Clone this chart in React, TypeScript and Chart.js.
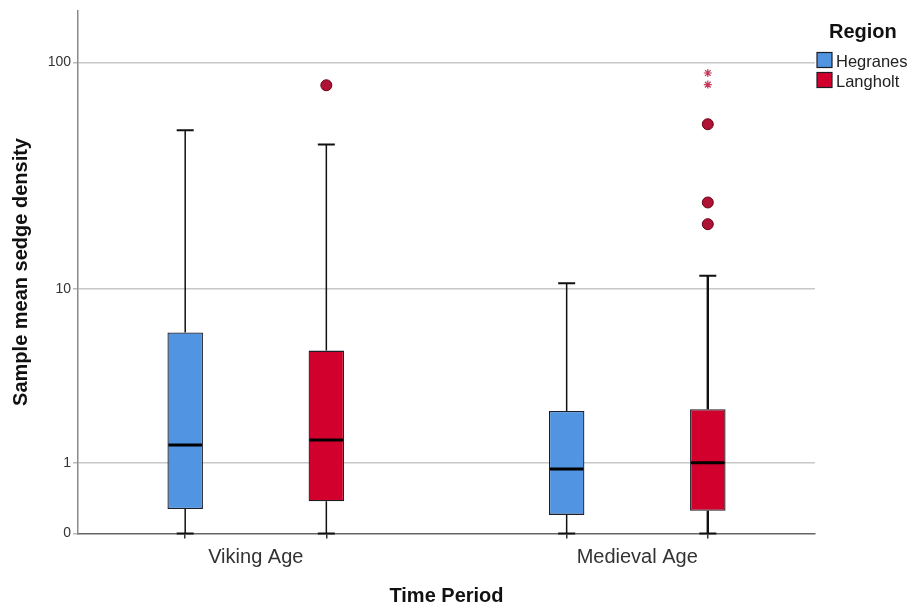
import React, { useEffect, useRef } from 'react';
import { Chart, registerables } from 'chart.js';

Chart.register(...registerables);

// ---------------- data ----------------
const periods = ['Viking Age', 'Medieval Age'];
const regions = ['Hegranes', 'Langholt'];

const hegranesMin = [0, 0];
const hegranesQ1 = [0.27, 0.2];
const hegranesMedian = [1.38, 0.88];
const hegranesQ3 = [6.17, 2.32];
const hegranesMax = [50.9, 10.6];
const hegranesOutliers: number[][] = [[], []];
const hegranesExtremes: number[][] = [[], []];

const langholtMin = [0, 0];
const langholtQ1 = [0.37, 0.25];
const langholtMedian = [1.5, 1.0];
const langholtQ3 = [5.0, 2.38];
const langholtMax = [44.2, 11.5];
const langholtOutliers: number[][] = [[79.7], [54.1, 24.6, 19.7]];
const langholtExtremes: number[][] = [[], [90, 80.2]];

const yTickValues = [0, 1, 10, 100];
const yAxisTop = 167;

// ---------------- layout / style ----------------
const periodCenters = [1, 2];
const regionOffsets = [-0.185, 0.185];
const xMin = 0.534;
const xMax = 2.466;

const FONT = "'Liberation Sans', Arial, Helvetica, sans-serif";
const regionColors = ['#5094E2', '#D2002D'];
const boxBorder = '#1e1e28';
const whiskerWidths = [
  [1.5, 1.5],
  [1.5, 2.4],
];
const capHalf = 8.5;

const tf = (v: number) => Math.log10(v + 1);

const regionStats = [
  {
    min: hegranesMin, q1: hegranesQ1, med: hegranesMedian, q3: hegranesQ3, max: hegranesMax,
    outliers: hegranesOutliers, extremes: hegranesExtremes,
  },
  {
    min: langholtMin, q1: langholtQ1, med: langholtMedian, q3: langholtQ3, max: langholtMax,
    outliers: langholtOutliers, extremes: langholtExtremes,
  },
];

const xTickPositions: number[] = [];
const xTickLabels: string[] = [];
periods.forEach((name, p) => {
  xTickPositions.push(periodCenters[p] + regionOffsets[0]);
  xTickLabels.push('');
  xTickPositions.push(periodCenters[p]);
  xTickLabels.push(name);
  xTickPositions.push(periodCenters[p] + regionOffsets[1]);
  xTickLabels.push('');
});

const boxPlugin = {
  id: 'boxWhiskers',
  afterDatasetsDraw(chart: any) {
    const { ctx } = chart;
    const x = chart.scales.x;
    const y = chart.scales.y;
    ctx.save();
    regionStats.forEach((st, r) => {
      const meta = chart.getDatasetMeta(r);
      periods.forEach((_, p) => {
        const bar = meta.data[p] as any;
        const cx = x.getPixelForValue(periodCenters[p] + regionOffsets[r]);
        const half = bar.width / 2;
        const yMinP = y.getPixelForValue(tf(st.min[p]));
        const yQ1 = y.getPixelForValue(tf(st.q1[p]));
        const yMed = y.getPixelForValue(tf(st.med[p]));
        const yQ3 = y.getPixelForValue(tf(st.q3[p]));
        const yMaxP = y.getPixelForValue(tf(st.max[p]));
        ctx.strokeStyle = '#111';
        ctx.lineCap = 'butt';
        ctx.lineWidth = whiskerWidths[r][p];
        ctx.beginPath();
        ctx.moveTo(cx, yQ3);
        ctx.lineTo(cx, yMaxP);
        ctx.moveTo(cx, yQ1);
        ctx.lineTo(cx, yMinP);
        ctx.stroke();
        ctx.lineWidth = 2;
        ctx.beginPath();
        ctx.moveTo(cx - capHalf, yMaxP);
        ctx.lineTo(cx + capHalf, yMaxP);
        ctx.moveTo(cx - capHalf, yMinP);
        ctx.lineTo(cx + capHalf, yMinP);
        ctx.stroke();
        ctx.strokeStyle = '#000';
        ctx.lineWidth = 3;
        ctx.beginPath();
        ctx.moveTo(cx - half + 1, yMed);
        ctx.lineTo(cx + half - 1, yMed);
        ctx.stroke();
      });
    });
    ctx.restore();
  },
};

const legendPlugin = {
  id: 'regionLegend',
  afterDraw(chart: any) {
    const { ctx } = chart;
    ctx.save();
    ctx.fillStyle = '#111';
    ctx.font = `bold 20px ${FONT}`;
    ctx.textBaseline = 'alphabetic';
    ctx.textAlign = 'left';
    ctx.fillText('Region', 829, 37.5);
    regions.forEach((name, r) => {
      const top = 52.5 + r * 20;
      ctx.fillStyle = regionColors[r];
      ctx.fillRect(817, top, 15, 15);
      ctx.strokeStyle = boxBorder;
      ctx.lineWidth = 1.2;
      ctx.strokeRect(817, top, 15, 15);
      ctx.fillStyle = '#222';
      ctx.font = `16.5px ${FONT}`;
      ctx.fillText(name, 836, top + 14.5);
    });
    ctx.restore();
  },
};

export default function App() {
  const ref = useRef<HTMLCanvasElement | null>(null);

  useEffect(() => {
    if (!ref.current) return;
    const datasets: any[] = [];
    regionStats.forEach((st, r) => {
      datasets.push({
        type: 'bar',
        label: regions[r],
        data: periods.map((_, p) => ({
          x: periodCenters[p] + regionOffsets[r],
          y: [tf(st.q1[p]), tf(st.q3[p])],
        })),
        backgroundColor: regionColors[r],
        borderColor: boxBorder,
        borderWidth: 1.3,
        borderSkipped: false,
        grouped: false,
        maxBarThickness: 35.5,
        order: 2,
      });
    });
    regionStats.forEach((st, r) => {
      const pts: any[] = [];
      st.outliers.forEach((vals, p) =>
        vals.forEach((v) => pts.push({ x: periodCenters[p] + regionOffsets[r], y: tf(v) }))
      );
      datasets.push({
        type: 'scatter',
        label: regions[r] + ' outliers',
        data: pts,
        pointStyle: 'circle',
        pointRadius: 5.5,
        backgroundColor: '#AE1234',
        borderColor: '#6a0018',
        borderWidth: 1,
        order: 1,
      });
      const ext: any[] = [];
      st.extremes.forEach((vals, p) =>
        vals.forEach((v) => ext.push({ x: periodCenters[p] + regionOffsets[r], y: tf(v) }))
      );
      datasets.push({
        type: 'scatter',
        label: regions[r] + ' extremes',
        data: ext,
        pointStyle: 'star',
        pointRadius: 4,
        backgroundColor: '#C2395A',
        borderColor: '#C2395A',
        borderWidth: 1.2,
        order: 1,
      });
    });

    const chart = new Chart(ref.current, {
      type: 'bar',
      data: { datasets },
      plugins: [boxPlugin, legendPlugin],
      options: {
        responsive: false,
        animation: false,
        devicePixelRatio: 1,
        layout: { padding: { top: 10, right: 96, left: 0, bottom: 0 } },
        plugins: {
          legend: { display: false },
          tooltip: { enabled: false },
        },
        scales: {
          x: {
            type: 'linear',
            min: xMin,
            max: xMax,
            bounds: 'data',
            offset: false,
            afterBuildTicks: (s: any) => {
              s.ticks = xTickPositions.map((v) => ({ value: v }));
            },
            afterFit: (s: any) => {
              s.height = 76.5;
            },
            ticks: {
              autoSkip: false,
              maxRotation: 0,
              minRotation: 0,
              padding: 7,
              color: '#333',
              font: { family: FONT, size: 20 },
              callback: (_v: any, i: number) => xTickLabels[i],
            },
            grid: {
              offset: false,
              drawOnChartArea: false,
              tickLength: 5,
              lineWidth: 1.5,
              tickColor: (c: any) => (xTickLabels[c.index] ? 'rgba(0,0,0,0)' : '#333'),
            },
            border: { color: '#666', width: 1.5 },
            title: {
              display: true,
              text: 'Time Period',
              color: '#111',
              font: { family: FONT, size: 20, weight: 'bold' },
              padding: { top: 0, bottom: 2 },
            },
          },
          y: {
            type: 'linear',
            min: 0,
            max: tf(yAxisTop),
            bounds: 'data',
            afterBuildTicks: (s: any) => {
              s.ticks = yTickValues.map((v) => ({ value: tf(v) }));
            },
            afterFit: (s: any) => {
              s.width = 78;
            },
            ticks: {
              padding: 2,
              color: '#333',
              font: { family: FONT, size: 14 },
              callback: (_v: any, i: number) => String(yTickValues[i]),
            },
            grid: {
              color: (c: any) => (c.index === 0 ? 'rgba(0,0,0,0)' : '#c8c8c8'),
              tickColor: '#b8b8b8',
              lineWidth: 1.5,
              tickLength: 5,
            },
            border: { color: '#8a8a8a', width: 1.5 },
            title: {
              display: true,
              text: 'Sample mean sedge density',
              color: '#111',
              font: { family: FONT, size: 20, weight: 'bold' },
              padding: { top: 9, bottom: 0 },
            },
          },
        },
      } as any,
    });
    return () => chart.destroy();
  }, []);

  return (
    <div style={{ position: 'fixed', left: 0, top: 0, width: 911, height: 610, background: '#fff' }}>
      <canvas ref={ref} width={911} height={610} style={{ display: 'block' }} />
    </div>
  );
}
